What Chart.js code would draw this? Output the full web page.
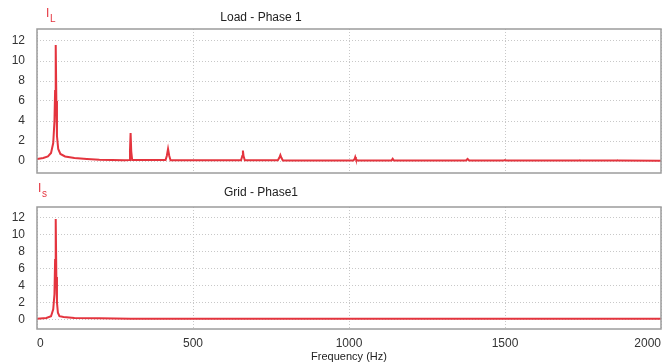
<!DOCTYPE html>
<html>
<head>
<meta charset="utf-8">
<script src="https://cdn.jsdelivr.net/npm/chart.js@4"></script>
<style>
  html, body { margin: 0; padding: 0; background: #fff; overflow: hidden; }
  #wrap { width: 662px; height: 362px; position: relative; }
  canvas { position: absolute; left: 0; }
</style>
</head>
<body>
<div id="wrap">
  <canvas id="loadChart" width="662" height="180" style="top:0"></canvas>
  <canvas id="gridChart" width="662" height="182" style="top:180px"></canvas>
</div>
<script>
const xTicks = [0, 500, 1000, 1500, 2000];
const yTicks = [0, 2, 4, 6, 8, 10, 12];

// Load - Phase 1 spectrum (Hz, A)
const loadFreq = [0, 20, 35, 45, 52, 56, 58, 60, 62, 64, 68, 75, 90, 120, 160, 200, 280,
  295, 298, 300, 302, 305, 412, 416, 420, 424, 428, 654, 658, 660, 662, 666,
  772, 777, 780, 783, 788, 1014, 1018, 1020, 1022, 1026, 1136, 1140, 1144,
  1375, 1380, 1385, 1495, 1500, 1505, 1736, 1740, 1744, 1856, 1860, 1864, 2000];
const loadAmp = [0.2, 0.3, 0.45, 0.8, 1.8, 4, 7, 11.6, 6, 2.5, 1.2, 0.7, 0.45, 0.3, 0.2, 0.12, 0.08,
  0.1, 1.0, 2.8, 1.0, 0.1, 0.1, 0.5, 1.2, 0.5, 0.08, 0.08, 0.5, 1.05, 0.5, 0.08,
  0.08, 0.35, 0.6, 0.35, 0.06, 0.06, 0.2, 0.4, 0.2, 0.05, 0.05, 0.22, 0.05,
  0.05, 0.2, 0.05, 0.04, 0.1, 0.04, 0.04, 0.08, 0.04, 0.04, 0.08, 0.04, 0.03];

// Grid - Phase1 spectrum (Hz, A)
const gridFreq = [0, 30, 45, 52, 56, 58, 60, 62, 64, 67, 72, 85, 120, 200, 300, 2000];
const gridAmp = [0.1, 0.2, 0.4, 1.2, 3, 7, 11.8, 5, 2, 0.8, 0.4, 0.3, 0.2, 0.15, 0.1, 0.1];

const RED = '#e4343e';
const FONT = 'Liberation Sans, Arial, sans-serif';

function toPoints(xs, ys) {
  return xs.map((x, i) => ({ x: x, y: ys[i] }));
}

// frame round the plot area + the red symbol and the panel title
function panelPlugin(sym, sub, title, titleY) {
  return {
    id: 'panel',
    afterDraw(chart) {
      const { ctx, chartArea: a } = chart;
      ctx.save();
      ctx.strokeStyle = '#9c9c9c';
      ctx.lineWidth = 1.5;
      ctx.strokeRect(a.left, a.top, a.right - a.left, a.bottom - a.top);

      ctx.fillStyle = RED;
      ctx.textBaseline = 'middle';
      ctx.textAlign = 'left';
      ctx.font = '12px ' + FONT;
      ctx.fillText(sym.text, sym.x, titleY - 4);
      ctx.font = '10px ' + FONT;
      ctx.fillText(sub, sym.x + 4, titleY + 1);

      ctx.fillStyle = '#222';
      ctx.textAlign = 'center';
      ctx.font = '12px ' + FONT;
      ctx.fillText(title, 261, titleY);
      ctx.restore();
    }
  };
}

function makeOptions(showX, yMin, pad) {
  return {
    responsive: false,
    animation: false,
    layout: { padding: pad },
    plugins: { legend: { display: false }, tooltip: { enabled: false } },
    scales: {
      x: {
        type: 'linear',
        min: 0,
        max: 2000,
        afterBuildTicks: s => { s.ticks = xTicks.map(v => ({ value: v })); },
        afterFit: s => { s.height = showX ? 33 : 0; s.paddingLeft = 0; s.paddingRight = 0; },
        grid: { color: '#c8c8c8', drawTicks: false },
        border: { display: false, dash: [1, 2] },
        ticks: {
          display: showX,
          align: 'inner',
          padding: 7,
          color: '#333',
          font: { family: FONT, size: 12 },
          callback: v => String(v)
        },
        title: {
          display: showX,
          text: 'Frequency (Hz)',
          color: '#222',
          padding: { top: 0, bottom: 0 },
          font: { family: FONT, size: 11, lineHeight: 1 }
        }
      },
      y: {
        min: yMin,
        max: 13.2,
        afterBuildTicks: s => { s.ticks = yTicks.map(v => ({ value: v })); },
        afterFit: s => { s.width = 37; s.paddingTop = 0; s.paddingBottom = 0; },
        grid: { color: '#c8c8c8', drawTicks: false },
        border: { display: false, dash: [1, 2] },
        ticks: {
          padding: 12,
          color: '#333',
          font: { family: FONT, size: 12 },
          callback: v => String(v)
        }
      }
    }
  };
}

function makeDataset(xs, ys) {
  return {
    data: toPoints(xs, ys),
    borderColor: RED,
    borderWidth: 2,
    pointRadius: 0,
    fill: false,
    tension: 0
  };
}

new Chart(document.getElementById('loadChart'), {
  type: 'line',
  data: { datasets: [makeDataset(loadFreq, loadAmp)] },
  options: makeOptions(false, -1.2, { top: 29, right: 1, bottom: 7, left: 0 }),
  plugins: [panelPlugin({ text: 'I', x: 46 }, 'L', 'Load - Phase 1', 18)]
});

new Chart(document.getElementById('gridChart'), {
  type: 'line',
  data: { datasets: [makeDataset(gridFreq, gridAmp)] },
  options: makeOptions(true, -1.1, { top: 27, right: 1, bottom: 0, left: 0 }),
  plugins: [panelPlugin({ text: 'I', x: 38 }, 's', 'Grid - Phase1', 13)]
});
</script>
</body>
</html>
